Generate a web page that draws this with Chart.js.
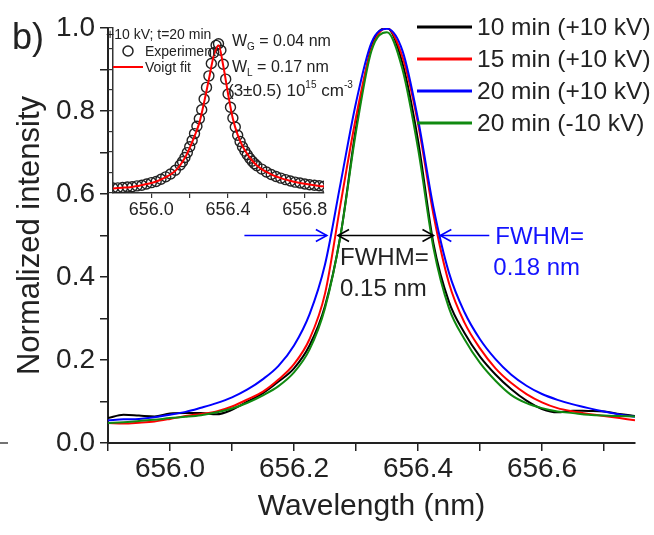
<!DOCTYPE html>
<html><head><meta charset="utf-8">
<script src="https://cdn.jsdelivr.net/npm/chart.js@4.4.1/dist/chart.umd.min.js"></script>
<style>
html,body{margin:0;padding:0;background:#fff;}
#wrap{position:relative;width:654px;height:535px;overflow:hidden;}
#main{position:absolute;left:0;top:0;}
#inset{position:absolute;left:0;top:0;}
</style></head><body>
<div id="wrap"><canvas id="main" width="654" height="535"></canvas><canvas id="inset" width="360" height="225"></canvas></div>
<script>
const FONT = "'Liberation Sans', Arial, sans-serif";

// ---- main panel data ----
const wavelength = [655.9,655.925,655.95,655.975,656.0,656.025,656.05,656.075,656.1,656.125,656.15,656.175,656.2,656.225,656.25,656.275,656.3,656.325,656.35,656.375,656.4,656.425,656.45,656.475,656.5,656.525,656.55,656.575,656.6,656.625,656.65,656.675,656.7,656.725,656.75];
const seriesLabels = ['10 min (+10 kV)','15 min (+10 kV)','20 min (+10 kV)','20 min (-10 kV)'];
const min10pos = [0.06,0.068,0.066,0.064,0.071,0.072,0.072,0.069,0.08,0.1,0.12,0.148,0.18,0.235,0.33,0.5,0.76,0.955,1.0,0.915,0.73,0.48,0.34,0.265,0.208,0.165,0.13,0.102,0.082,0.074,0.078,0.077,0.076,0.07,0.065];
const min15pos = [0.048,0.047,0.049,0.052,0.058,0.065,0.07,0.076,0.088,0.105,0.124,0.153,0.19,0.25,0.36,0.575,0.785,0.95,1.0,0.93,0.77,0.55,0.385,0.29,0.228,0.18,0.145,0.118,0.098,0.084,0.076,0.07,0.065,0.06,0.055];
const min20pos = [0.055,0.057,0.058,0.062,0.068,0.075,0.085,0.096,0.11,0.129,0.154,0.186,0.235,0.31,0.43,0.625,0.82,0.965,0.998,0.945,0.78,0.567,0.41,0.315,0.25,0.202,0.165,0.138,0.118,0.104,0.093,0.084,0.076,0.069,0.063];
const min20neg = [0.048,0.05,0.053,0.056,0.06,0.063,0.067,0.074,0.083,0.097,0.115,0.137,0.17,0.225,0.325,0.5,0.75,0.945,0.99,0.9,0.71,0.47,0.325,0.25,0.193,0.15,0.116,0.096,0.084,0.076,0.072,0.068,0.066,0.065,0.064];
const seriesColors = ['#000000','#ff0000','#0000ff','#108a10'];

const xTickValues = [655.9,656.0,656.1,656.2,656.3,656.4,656.5,656.6,656.7];
const xTickLabels = [656.0,656.2,656.4,656.6];
const yTickValues = [0,0.1,0.2,0.3,0.4,0.5,0.6,0.7,0.8,0.9,1.0];
const yTickLabels = [0,0.2,0.4,0.6,0.8,1.0];

// FWHM annotations (wavelength, nm) at half maximum
const halfMax = 0.5;
const fwhmBlackEnds = [656.271, 656.425];
const fwhmBlueFrom = [656.12, 656.515];
const fwhmBlueTo = [656.253, 656.436];
const fwhmBlackText = ['FWHM=', '0.15 nm'];
const fwhmBlueText = ['FWHM=', '0.18 nm'];

// ---- inset data ----
const insetFitWl = [655.8,655.825,655.85,655.875,655.9,655.925,655.95,655.975,656.0,656.025,656.05,656.075,656.1,656.125,656.15,656.175,656.2,656.225,656.25,656.275,656.3,656.325,656.35,656.375,656.4,656.425,656.45,656.475,656.5,656.525,656.55,656.575,656.6,656.625,656.65,656.675,656.7,656.725,656.75,656.775,656.8,656.825,656.85,656.875,656.9];
const insetFit = [0.028,0.03,0.032,0.034,0.037,0.042,0.048,0.054,0.061,0.07,0.082,0.096,0.112,0.134,0.168,0.213,0.274,0.345,0.425,0.55,0.69,0.83,0.895,0.77,0.6,0.45,0.352,0.285,0.236,0.197,0.167,0.145,0.128,0.113,0.1,0.09,0.081,0.074,0.067,0.061,0.056,0.051,0.047,0.043,0.04];
const insetExpWl = [655.8,655.825,655.85,655.875,655.9,655.925,655.95,655.975,656.0,656.025,656.05,656.075,656.1,656.125,
 656.15,656.1625,656.175,656.1875,656.2,656.2125,656.225,656.2375,656.25,656.2625,656.275,656.2875,656.3,656.3125,656.325,656.3375,656.35,656.3625,656.375,656.3875,656.4,656.4125,656.425,656.4375,656.45,656.4625,656.475,656.4875,656.5,656.5125,656.525,656.5375,656.55,
 656.575,656.6,656.625,656.65,656.675,656.7,656.725,656.75,656.775,656.8,656.825,656.85,656.875,656.9];
const insetExp = [0.03,0.031,0.033,0.036,0.038,0.043,0.047,0.055,0.063,0.07,0.083,0.098,0.115,0.138,
 0.17,0.19,0.215,0.245,0.28,0.318,0.36,0.405,0.45,0.505,0.57,0.64,0.71,0.785,0.85,0.895,0.905,0.865,0.78,0.69,0.6,0.52,0.455,0.4,0.35,0.312,0.28,0.254,0.232,0.211,0.193,0.178,0.165,
 0.145,0.127,0.112,0.1,0.09,0.081,0.073,0.066,0.061,0.055,0.05,0.047,0.044,0.041];
const insetXTicks = [656.0,656.2,656.4,656.6,656.8];
const insetXLabels = [656.0,656.4,656.8];
const insetYTicks = [0,0.125,0.25,0.375,0.5,0.625,0.75,0.875,1.0];

const near = (v, arr) => arr.some(a => Math.abs(a - v) < 1e-6);
const TXT = '#222';

function chevron(ctx, xt, yy, dir){
  ctx.beginPath();
  ctx.moveTo(xt - dir*11, yy - 6);
  ctx.lineTo(xt, yy);
  ctx.lineTo(xt - dir*11, yy + 6);
  ctx.stroke();
}

const mainAnnot = {
  id: 'mainAnnot',
  afterDraw(chart){
    const {ctx, scales:{x, y}} = chart;
    ctx.save();
    // legend
    chart.data.datasets.forEach((ds, i) => {
      const yy = 27 + i*32;
      ctx.strokeStyle = ds.borderColor; ctx.lineWidth = 3;
      ctx.beginPath(); ctx.moveTo(417, yy); ctx.lineTo(472, yy); ctx.stroke();
      ctx.fillStyle = TXT; ctx.font = '24.5px ' + FONT;
      ctx.textBaseline = 'middle'; ctx.textAlign = 'left';
      ctx.fillText(ds.label, 477, yy + 1);
    });
    // FWHM arrows
    const yh = y.getPixelForValue(halfMax);
    ctx.lineWidth = 1.6;
    ctx.strokeStyle = '#0000ff';
    ctx.beginPath(); ctx.moveTo(x.getPixelForValue(fwhmBlueFrom[0]), yh); ctx.lineTo(x.getPixelForValue(fwhmBlueTo[0]), yh); ctx.stroke();
    chevron(ctx, x.getPixelForValue(fwhmBlueTo[0]), yh, 1);
    ctx.beginPath(); ctx.moveTo(x.getPixelForValue(fwhmBlueFrom[1]), yh); ctx.lineTo(x.getPixelForValue(fwhmBlueTo[1]), yh); ctx.stroke();
    chevron(ctx, x.getPixelForValue(fwhmBlueTo[1]), yh, -1);
    ctx.strokeStyle = '#000';
    const b0 = x.getPixelForValue(fwhmBlackEnds[0]), b1 = x.getPixelForValue(fwhmBlackEnds[1]);
    ctx.beginPath(); ctx.moveTo(b0, yh); ctx.lineTo(b1, yh); ctx.stroke();
    chevron(ctx, b0, yh, -1); chevron(ctx, b1, yh, 1);
    // FWHM texts
    ctx.font = '24px ' + FONT; ctx.textBaseline = 'alphabetic'; ctx.textAlign = 'left';
    ctx.fillStyle = TXT;
    ctx.fillText(fwhmBlackText[0], b0 + 2, yh + 29);
    ctx.fillText(fwhmBlackText[1], b0 + 2, yh + 60);
    ctx.fillStyle = '#1414ff';
    const bx = x.getPixelForValue(fwhmBlueFrom[1]) + 6;
    ctx.fillText(fwhmBlueText[0], bx, yh + 8);
    ctx.fillText(fwhmBlueText[1], bx - 2, yh + 39);
    // panel label
    ctx.fillStyle = TXT; ctx.font = '36px ' + FONT;
    ctx.fillText('b)', 12, 49);
    // small stray dash at left edge
    const y0 = y.getPixelForValue(0);
    ctx.strokeStyle = '#444'; ctx.lineWidth = 1.5;
    ctx.beginPath(); ctx.moveTo(0, y0); ctx.lineTo(8, y0); ctx.stroke();
    ctx.restore();
  }
};

const mkSeries = (vals) => wavelength.map((w, i) => ({x: w, y: vals[i]}));
const allSeries = [min10pos, min15pos, min20pos, min20neg];

new Chart(document.getElementById('main'), {
  type: 'line',
  data: {
    datasets: allSeries.map((s, i) => ({
      label: seriesLabels[i],
      data: mkSeries(s),
      borderColor: seriesColors[i],
      backgroundColor: seriesColors[i],
      borderWidth: 2,
      pointRadius: 0,
      fill: false,
      cubicInterpolationMode: 'monotone',
      order: 4 - i
    }))
  },
  options: {
    responsive: false, animation: false, devicePixelRatio: 1,
    layout: {padding: {left: 0, top: 28, right: 19, bottom: 0}},
    plugins: {legend: {display: false}, tooltip: {enabled: false}},
    scales: {
      x: {
        type: 'linear', min: 655.9, max: 656.75,
        afterBuildTicks: s => { s.ticks = xTickValues.map(v => ({value: v})); },
        afterFit: s => { s.height = 92; },
        ticks: {
          autoSkip: false, maxRotation: 0, padding: 1, color: TXT,
          font: {family: FONT, size: 28},
          callback: v => near(v, xTickLabels) ? v.toFixed(1) : ''
        },
        grid: {drawOnChartArea: false, tickLength: 8, color: '#222', lineWidth: 1.5},
        border: {display: true, color: '#222', width: 2},
        title: {display: true, text: 'Wavelength (nm)', color: TXT, font: {family: FONT, size: 30}, padding: {top: 0, bottom: 10}}
      },
      y: {
        type: 'linear', min: 0, max: 1.0,
        afterBuildTicks: s => { s.ticks = yTickValues.map(v => ({value: v})); },
        afterFit: s => { s.width = 108; },
        ticks: {
          autoSkip: false, padding: 5, color: TXT,
          font: {family: FONT, size: 28},
          callback: v => near(v, yTickLabels) ? v.toFixed(1) : ''
        },
        grid: {drawOnChartArea: false, tickLength: 8, color: '#222', lineWidth: 1.5},
        border: {display: true, color: '#222', width: 2},
        title: {display: true, text: 'Normalized intensity', color: TXT, font: {family: FONT, size: 31}, padding: {top: 12, bottom: 0}}
      }
    }
  },
  plugins: [mainAnnot]
});

// ---- inset ----
const insetAnnot = {
  id: 'insetAnnot',
  afterDraw(chart){
    const {ctx} = chart;
    ctx.save();
    ctx.fillStyle = TXT; ctx.textAlign = 'left'; ctx.textBaseline = 'alphabetic';
    ctx.font = '14px ' + FONT;
    ctx.fillText('+10 kV; t=20 min', 106, 39);
    // inset legend
    ctx.strokeStyle = '#222'; ctx.lineWidth = 1.5;
    ctx.beginPath(); ctx.arc(128, 51, 5, 0, Math.PI*2); ctx.stroke();
    ctx.textBaseline = 'middle';
    ctx.fillText('Experiment', 145, 52);
    ctx.strokeStyle = '#ff0000'; ctx.lineWidth = 2;
    ctx.beginPath(); ctx.moveTo(113, 67); ctx.lineTo(143, 67); ctx.stroke();
    ctx.fillText('Voigt fit', 145, 68);
    // fit parameters
    ctx.textBaseline = 'alphabetic';
    const part = (txt, size, xx, yy) => { ctx.font = size + 'px ' + FONT; ctx.fillText(txt, xx, yy); return xx + ctx.measureText(txt).width; };
    let px = part('W', 16, 232, 46); px = part('G', 10, px, 50); part(' = 0.04 nm', 16, px, 46);
    px = part('W', 16, 232, 72); px = part('L', 10, px, 76); part(' = 0.17 nm', 16, px, 72);
    px = part('(3\u00b10.5) 10', 17, 228, 96); px = part('15', 10, px, 88); px = part(' cm', 17, px, 96); part('-3', 10, px, 88);
    ctx.restore();
  }
};

new Chart(document.getElementById('inset'), {
  type: 'scatter',
  data: {
    datasets: [
      {label: 'Voigt fit', data: insetFitWl.map((w, i) => ({x: w, y: insetFit[i]})), showLine: true,
       borderColor: '#ff0000', borderWidth: 2, pointRadius: 0, cubicInterpolationMode: 'monotone', order: 1},
      {label: 'Experiment', data: insetExpWl.map((w, i) => ({x: w, y: insetExp[i]})), showLine: false,
       borderColor: '#222', backgroundColor: 'rgba(0,0,0,0)', pointRadius: 5, pointBorderWidth: 1.4, order: 2}
    ]
  },
  options: {
    responsive: false, animation: false, devicePixelRatio: 1,
    layout: {padding: {left: 0, top: 28, right: 36, bottom: 0}},
    plugins: {legend: {display: false}, tooltip: {enabled: false}},
    scales: {
      x: {
        type: 'linear', min: 655.8, max: 656.9,
        afterBuildTicks: s => { s.ticks = insetXTicks.map(v => ({value: v})); },
        afterFit: s => { s.height = 32; },
        ticks: {autoSkip: false, maxRotation: 0, padding: 1, color: TXT, font: {family: FONT, size: 18},
          callback: v => near(v, insetXLabels) ? v.toFixed(1) : ''},
        grid: {drawOnChartArea: false, tickLength: 5, color: '#333', lineWidth: 1.2},
        border: {display: true, color: '#333', width: 1.5}
      },
      y: {
        type: 'linear', min: 0, max: 1,
        afterBuildTicks: s => { s.ticks = insetYTicks.map(v => ({value: v})); },
        afterFit: s => { s.width = 113; },
        ticks: {autoSkip: false, callback: () => ''},
        grid: {drawOnChartArea: false, tickLength: 5, color: '#333', lineWidth: 1.2},
        border: {display: true, color: '#333', width: 1.5}
      }
    }
  },
  plugins: [insetAnnot]
});
</script>
</body></html>
